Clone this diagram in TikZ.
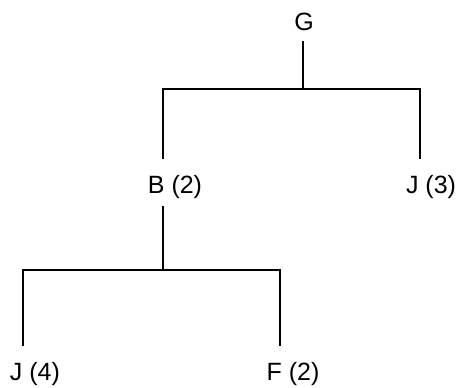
\documentclass[tikz,border=0pt]{standalone}
\usepackage{fontspec}
\setmainfont{Liberation Sans}
\begin{document}
\begin{tikzpicture}[x=0.5pt,y=-0.5pt,
  lab/.style={font=\fontsize{12.5}{15}\selectfont, inner sep=0pt, anchor=base},
  conn/.style={line width=1pt, line cap=rect}]
\useasboundingbox (0,0) rectangle (456,387);
% nodes
\node[lab] (G)  at (304,30)  {G};
\node[lab] (B)  at (175,193) {B (2)};
\node[lab] (J3) at (431,193) {J (3)};
\node[lab] (J4) at (35,380)  {J (4)};
\node[lab] (F)  at (293,380) {F (2)};
% connector ends
\coordinate (Gt)  at (303,42);
\coordinate (Gb)  at (303,89);
\coordinate (Bt)  at (163,158);
\coordinate (J3t) at (420,158);
\coordinate (Bd)  at (163,207);
\coordinate (Bb)  at (163,270);
\coordinate (J4t) at (23,345);
\coordinate (Ft)  at (280,345);
% connectors
\draw[conn] (Gt) -- (Gb);
\draw[conn] (Bt) |- (Gb) -| (J3t);
\draw[conn] (Bd) -- (Bb);
\draw[conn] (J4t) |- (Bb) -| (Ft);
\end{tikzpicture}
\end{document}
